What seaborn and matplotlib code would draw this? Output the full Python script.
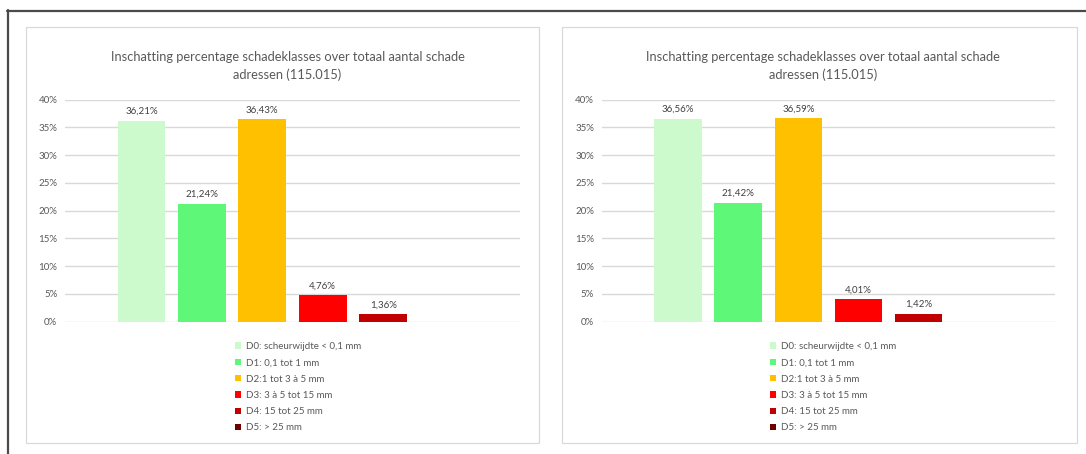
import numpy as np
import pandas as pd
import matplotlib
matplotlib.use("Agg")
import matplotlib.pyplot as plt
from matplotlib.patches import Rectangle, Patch
from matplotlib.lines import Line2D
from matplotlib.ticker import FuncFormatter
import seaborn as sns

# --- data -----------------------------------------------------------------
categories = [
    "D0: scheurwijdte < 0,1 mm",
    "D1: 0,1 tot 1 mm",
    "D2:1 tot 3 à 5 mm",
    "D3: 3 à 5 tot 15 mm",
    "D4: 15 tot 25 mm",
    "D5: > 25 mm",
]
colors = ["#CCFACC", "#5FF777", "#FFC000", "#FF0000", "#C00000", "#6E0000"]
values_left = [36.21, 21.24, 36.43, 4.76, 1.36, np.nan]
values_right = [36.56, 21.42, 36.59, 4.01, 1.42, np.nan]
title = "Inschatting percentage schadeklasses over totaal aantal schade\nadressen (115.015)"
y_ticks = [0, 5, 10, 15, 20, 25, 30, 35, 40]

# --- style ----------------------------------------------------------------
sns.set_theme(style="white")
plt.rcParams["font.family"] = ["Lato", "DejaVu Sans"]

W, H = 1086, 454
fig = plt.figure(figsize=(W / 100, H / 100), dpi=100)
fig.patch.set_facecolor("white")


def fx(px):
    return px / W


def fy(py):
    return 1 - py / H


# dark outer frame (top and left edges)
fig.add_artist(Line2D([fx(7), 1], [fy(10.5), fy(10.5)], transform=fig.transFigure,
                      color="#4A4A4A", lw=1.6))
fig.add_artist(Line2D([fx(7.5), fx(7.5)], [fy(10), 0], transform=fig.transFigure,
                      color="#4A4A4A", lw=1.6))

panels = [
    dict(values=values_left, frame=(25.5, 27, 539, 443), axes=(65, 520), legend_x=235),
    dict(values=values_right, frame=(562, 27, 1077, 443), axes=(601.7, 1055), legend_x=770),
]

grey_text = "#595959"
label_text = "#404040"
ax_top, ax_bottom = 99.5, 321.7

for p in panels:
    x0, y0, x1, y1 = p["frame"]
    fig.add_artist(Rectangle((fx(x0), fy(y1)), fx(x1 - x0), (y1 - y0) / H,
                             transform=fig.transFigure, fill=False,
                             edgecolor="#D9D9D9", lw=0.9))

    a0, a1 = p["axes"]
    ax = fig.add_axes([fx(a0), fy(ax_bottom), fx(a1 - a0), (ax_bottom - ax_top) / H])
    df = pd.DataFrame({"klasse": categories, "pct": p["values"]})
    sns.barplot(data=df, x="klasse", y="pct", hue="klasse", palette=colors,
                order=categories, hue_order=categories, legend=False,
                width=0.788, saturation=1, errorbar=None, ax=ax, linewidth=0)

    ax.set_xlim(-1.266, 6.266)
    ax.set_ylim(0, 40)
    ax.set_yticks(y_ticks)
    ax.yaxis.set_major_formatter(FuncFormatter(lambda v, _: f"{v:.0f}%"))
    ax.set_xticks([])
    ax.set_xlabel("")
    ax.set_ylabel("")
    ax.tick_params(axis="y", length=0, pad=5.5, labelsize=7, labelcolor=grey_text)
    ax.grid(axis="y", color="#D9D9D9", lw=1.0)
    ax.set_axisbelow(True)
    for s in ax.spines.values():
        s.set_visible(False)

    for cont in ax.containers:
        labels = []
        for bar in cont:
            h = bar.get_height()
            labels.append("" if np.isnan(h) else f"{h:.2f}%".replace(".", ","))
        ax.bar_label(cont, labels=labels, padding=3.5, fontsize=7, color=label_text)

    ax.text(0.489, (ax_bottom - 66) / (ax_bottom - ax_top), title, transform=ax.transAxes,
            ha="center", va="center", fontsize=9.3, color=grey_text, linespacing=1.45)

    handles = [Patch(facecolor=c, edgecolor="none") for c in colors]
    ax.legend(handles, categories, loc="upper left",
              bbox_to_anchor=(fx(p["legend_x"]), fy(342)), bbox_transform=fig.transFigure,
              frameon=False, fontsize=7, handlelength=0.65, handleheight=0.65,
              handletextpad=0.45, labelspacing=0.75, borderpad=0, borderaxespad=0,
              labelcolor=grey_text)

fig.savefig("out.png", dpi=100, facecolor="white")
